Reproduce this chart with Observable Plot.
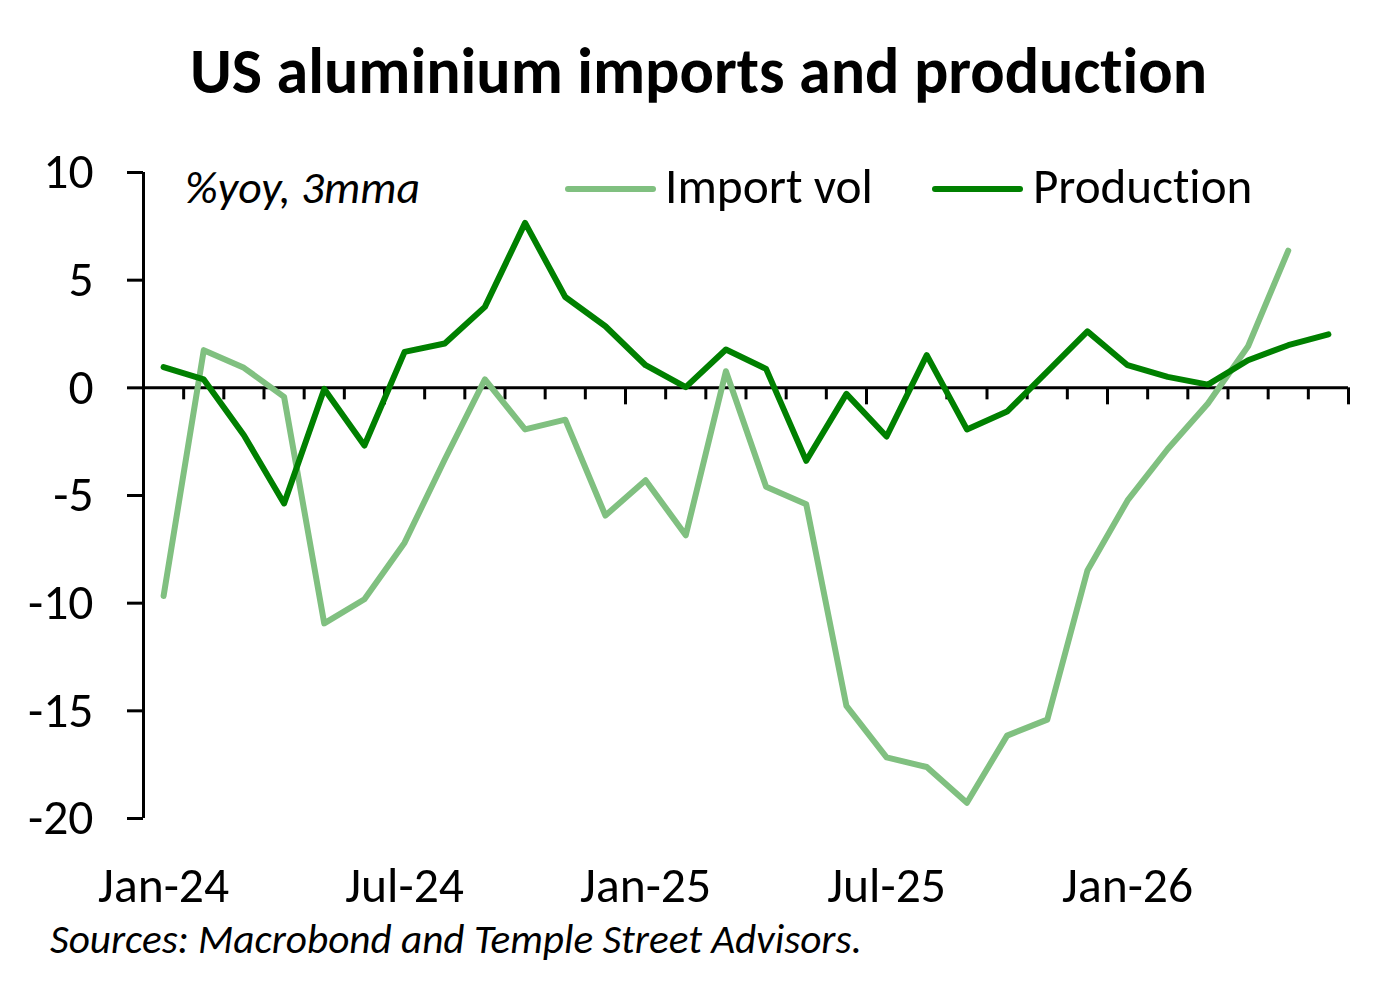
<!DOCTYPE html>
<html>
<head>
<meta charset="utf-8">
<script src="https://cdn.jsdelivr.net/npm/d3@7"></script>
<script src="https://cdn.jsdelivr.net/npm/@observablehq/plot@0.6"></script>
<style>
  body { margin: 0; background: #fff; }
  #wrap { position: relative; width: 1398px; height: 990px; overflow: hidden; color: #000; background: #fff; font-variant-ligatures: none; font-feature-settings: "liga" 0, "clig" 0; }
  .t { position: absolute; white-space: nowrap; line-height: 1.2; }
  .sw { position: absolute; height: 6px; border-radius: 3px; }
  #chart { position: absolute; left: 0; top: 120px; }
</style>
</head>
<body>
<div id="wrap"></div>
<script>
// ---- Data ----
const months = [
  "Jan-24","Feb-24","Mar-24","Apr-24","May-24","Jun-24","Jul-24","Aug-24","Sep-24","Oct-24","Nov-24","Dec-24",
  "Jan-25","Feb-25","Mar-25","Apr-25","May-25","Jun-25","Jul-25","Aug-25","Sep-25","Oct-25","Nov-25","Dec-25",
  "Jan-26","Feb-26","Mar-26","Apr-26","May-26","Jun-26"
];
const importVol = [
  -9.67, 1.75, 0.93, -0.42, -10.94, -9.82, -7.19, -3.33, 0.39, -1.93, -1.48, -5.93,
  -4.29, -6.85, 0.77, -4.59, -5.41, -14.77, -17.16, -17.61, -19.27, -16.15, -15.41, -8.48,
  -5.23, -2.84, -0.73, 1.93, 6.37
];
const production = [
  0.96, 0.39, -2.2, -5.37, -0.05, -2.68, 1.67, 2.06, 3.76, 7.66, 4.22, 2.86,
  1.05, 0.03, 1.78, 0.88, -3.39, -0.28, -2.26, 1.52, -1.93, -1.10, 0.75, 2.62,
  1.05, 0.51, 0.15, 1.28, 1.98, 2.48
];
const yTicks = [-20, -15, -10, -5, 0, 5, 10];
const xLabelIdx = [0, 6, 12, 18, 24];
const seriesNames = ["Import vol", "Production"];
const colors = ["#80c080", "#008000"];
const titleText = "US aluminium imports and production";
const unitText = "%yoy, 3mma";
const sourceText = "Sources: Macrobond and Temple Street Advisors.";

// ---- Fonts / helpers ----
const FAMILY = "Carlito, Calibri, Lato, sans-serif";
const wrap = document.getElementById("wrap");
wrap.style.fontFamily = FAMILY;
const ctx = document.createElement("canvas").getContext("2d");
function fit(text, target, weight = "normal", style = "normal") {
  ctx.font = `${style} ${weight} 100px ${FAMILY}`;
  return 100 * target / ctx.measureText(text).width;
}
function addText(txt, {left, center, baseline, size, weight = "normal", style = "normal"}) {
  const d = document.createElement("div");
  d.className = "t";
  d.style.fontSize = size + "px";
  d.style.fontWeight = weight;
  d.style.fontStyle = style;
  d.appendChild(document.createTextNode(txt));
  const m = document.createElement("span");
  m.style.cssText = "display:inline-block;width:0;height:0;";
  d.appendChild(m);
  d.style.top = "0px";
  d.style.left = "0px";
  wrap.appendChild(d);
  if (center != null) {
    const w = d.getBoundingClientRect().width;
    d.style.left = (center - w / 2) + "px";
  } else {
    d.style.left = left + "px";
  }
  const b = m.getBoundingClientRect().top - wrap.getBoundingClientRect().top;
  d.style.top = (baseline - b) + "px";
  return d;
}
function addSwatch(left, width, cy, color) {
  const s = document.createElement("div");
  s.className = "sw";
  s.style.left = left + "px";
  s.style.width = width + "px";
  s.style.top = (cy - 3) + "px";
  s.style.background = color;
  wrap.appendChild(s);
}

// ---- Title, unit, legend, source ----
addText(titleText, {center: 698.5, baseline: 93, size: fit(titleText, 1017, "bold"), weight: "bold"});
addText(unitText, {left: 185, baseline: 203, size: fit(unitText, 235, "normal", "italic"), style: "italic"});
addSwatch(565, 91, 189, colors[0]);
addText(seriesNames[0], {left: 665, baseline: 203, size: fit(seriesNames[0], 208)});
addSwatch(932, 91, 189, colors[1]);
addText(seriesNames[1], {left: 1033, baseline: 203, size: fit(seriesNames[1], 219)});
addText(sourceText, {left: 50, baseline: 953, size: fit(sourceText, 812, "normal", "italic"), style: "italic"});

// ---- Chart ----
const axisSize = fit("Jan-26", 131);
const importData = importVol.map((v, i) => ({i, v, s: seriesNames[0]}));
const prodData = production.map((v, i) => ({i, v, s: seriesNames[1]}));
const boundaries = d3.range(0.5, months.length, 1);
const majorB = boundaries.filter(b => (b + 0.5) % 6 === 0);
const minorB = boundaries.filter(b => (b + 0.5) % 6 !== 0);

const chart = Plot.plot({
  width: 1398,
  height: 800,
  marginTop: 52,
  marginBottom: 102,
  marginLeft: 143,
  marginRight: 50,
  style: {fontFamily: FAMILY, fontSize: axisSize + "px", color: "#000", background: "transparent", overflow: "visible"},
  x: {type: "linear", domain: [-0.5, months.length - 0.5], label: null},
  y: {domain: [-20, 10], label: null},
  marks: [
    Plot.axisY({ticks: yTicks, tickSize: 16, tickPadding: 34, tickFormat: d => String(d), strokeWidth: 3, fontSize: axisSize, label: null}),
    Plot.axisX({ticks: xLabelIdx, tickSize: 0, tickPadding: 48, tickFormat: i => months[i], fontSize: axisSize, label: null}),
    Plot.ruleX([-0.5], {stroke: "#000", strokeWidth: 3}),
    Plot.ruleY([0], {stroke: "#000", strokeWidth: 3}),
    Plot.ruleX(minorB, {x: d => d, y1: 0, y2: 0, insetBottom: -12, stroke: "#000", strokeWidth: 3}),
    Plot.ruleX(majorB, {x: d => d, y1: 0, y2: 0, insetBottom: -17, stroke: "#000", strokeWidth: 3}),
    Plot.line(importData, {x: "i", y: "v", stroke: colors[0], strokeWidth: 6, strokeLinejoin: "round", strokeLinecap: "round"}),
    Plot.line(prodData, {x: "i", y: "v", stroke: colors[1], strokeWidth: 6, strokeLinejoin: "round", strokeLinecap: "round"})
  ]
});
chart.id = "chart";
wrap.appendChild(chart);
</script>
</body>
</html>
